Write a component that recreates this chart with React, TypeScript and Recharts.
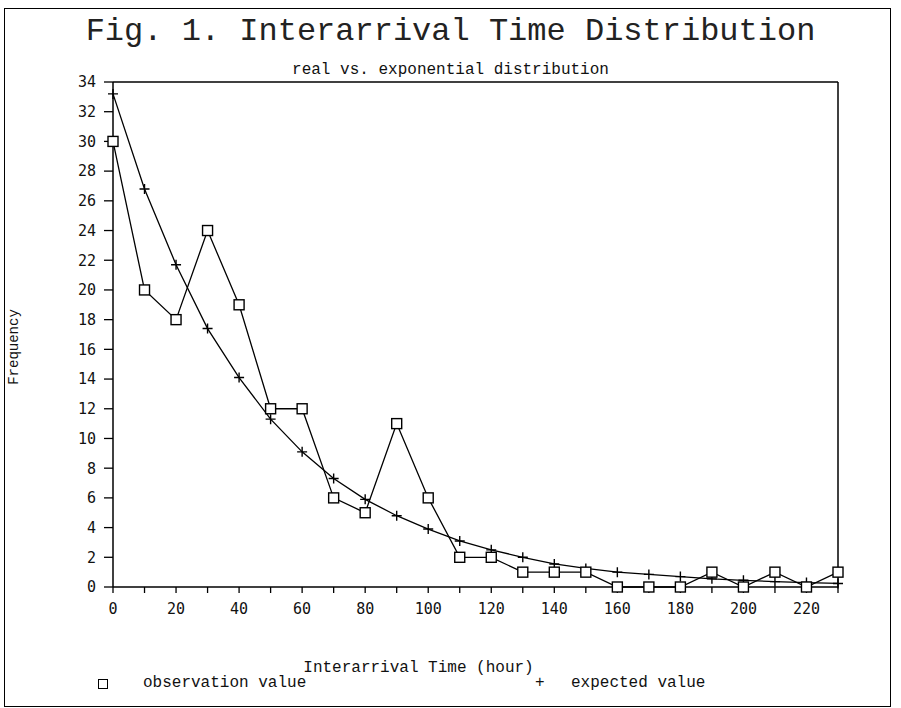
import { LineChart, Line, XAxis, YAxis, ReferenceLine, Legend } from "recharts";

// interarrival time (hour), one point every 10 hours
const hours = [0, 10, 20, 30, 40, 50, 60, 70, 80, 90, 100, 110, 120, 130, 140, 150, 160, 170, 180, 190, 200, 210, 220, 230];
const observationValue = [30, 20, 18, 24, 19, 12, 12, 6, 5, 11, 6, 2, 2, 1, 1, 1, 0, 0, 0, 1, 0, 1, 0, 1];
const expectedValue = [33.2, 26.8, 21.7, 17.4, 14.1, 11.3, 9.1, 7.3, 5.9, 4.8, 3.9, 3.1, 2.5, 2.0, 1.55, 1.25, 1.0, 0.85, 0.7, 0.55, 0.45, 0.36, 0.3, 0.24];

const xTicks = [0, 10, 20, 30, 40, 50, 60, 70, 80, 90, 100, 110, 120, 130, 140, 150, 160, 170, 180, 190, 200, 210, 220, 230];
const xTickLabels = [0, 20, 40, 60, 80, 100, 120, 140, 160, 180, 200, 220];
const yTicks = [0, 2, 4, 6, 8, 10, 12, 14, 16, 18, 20, 22, 24, 26, 28, 30, 32, 34];

const rows = hours.map((h, i) => ({ hour: h, obs: observationValue[i], exp: expectedValue[i] }));

const mono = "'Liberation Mono', 'DejaVu Sans Mono', monospace";
const tickFont = { fontFamily: "'DejaVu Sans Mono', monospace", fontSize: 15, fill: "#111" };

const Square = ({ cx, cy }: any) => {
  if (cx == null || cy == null) return null;
  return <rect x={cx - 5} y={cy - 5} width={10} height={10} fill="#fff" stroke="#000" strokeWidth={1.4} />;
};

const Plus = ({ cx, cy }: any) => {
  if (cx == null || cy == null) return null;
  return <path d={`M${cx - 5},${cy}H${cx + 5}M${cx},${cy - 5}V${cy + 5}`} stroke="#000" strokeWidth={1.4} fill="none" />;
};

const renderLegend = () => (
  <div style={{ position: "relative", height: 20, fontFamily: mono, fontSize: 16, color: "#111" }}>
    <span style={{ position: "absolute", left: 98, top: 5, width: 8, height: 8, border: "1.5px solid #000" }} />
    <span style={{ position: "absolute", left: 143, top: 0 }}>observation value</span>
    <span style={{ position: "absolute", left: 535, top: 0 }}>+</span>
    <span style={{ position: "absolute", left: 571, top: 0 }}>expected value</span>
  </div>
);

export default function App() {
  return (
    <div style={{ position: "absolute", left: 0, top: 0, width: 901, height: 708, background: "#fff", overflow: "hidden" }}>
      <div style={{ position: "absolute", left: 4, top: 8, width: 885, height: 697, border: "1.5px solid #000" }} />
      <div style={{ position: "absolute", left: 0, width: 901, top: 13, textAlign: "center", fontFamily: mono, fontSize: 32, color: "#222" }}>
        Fig. 1. Interarrival Time Distribution
      </div>
      <div style={{ position: "absolute", left: 0, width: 901, top: 61, textAlign: "center", fontFamily: mono, fontSize: 16, color: "#111" }}>
        real vs. exponential distribution
      </div>
      <div style={{ position: "absolute", left: 0, width: 901, top: 659, textAlign: "center", paddingRight: 64, boxSizing: "border-box", fontFamily: mono, fontSize: 16, color: "#111" }}>
        Interarrival Time (hour)
      </div>
      <div style={{ position: "absolute", left: 14, top: 347, transform: "translate(-50%, -50%) rotate(-90deg)", fontFamily: mono, fontSize: 14, color: "#111", whiteSpace: "nowrap" }}>
        Frequency
      </div>
      <LineChart width={901} height={708} data={rows} margin={{ top: 82, right: 63, left: 53, bottom: 71 }}>
        <XAxis
          dataKey="hour"
          type="number"
          domain={[0, 230]}
          ticks={xTicks}
          interval={0}
          tickFormatter={(v: number) => (xTickLabels.includes(v) ? String(v) : "")}
          tick={tickFont}
          tickSize={6}
          tickMargin={10}
          height={30}
          stroke="#000"
          axisLine={{ stroke: "#000", strokeWidth: 1.5 }}
          tickLine={{ stroke: "#000", strokeWidth: 1.3 }}
        />
        <YAxis
          type="number"
          domain={[0, 34]}
          ticks={yTicks}
          interval={0}
          tick={tickFont}
          tickSize={9}
          tickMargin={8}
          width={60}
          axisLine={{ stroke: "#000", strokeWidth: 1.5 }}
          tickLine={{ stroke: "#000", strokeWidth: 1.3 }}
        />
        <ReferenceLine y={34} stroke="#000" strokeWidth={1.5} />
        <ReferenceLine x={230} stroke="#000" strokeWidth={1.5} />
        <Line
          type="linear"
          dataKey="exp"
          name="expected value"
          stroke="#000"
          strokeWidth={1.3}
          dot={(p: any) => <Plus key={`p${p.index}`} {...p} />}
          isAnimationActive={false}
        />
        <Line
          type="linear"
          dataKey="obs"
          name="observation value"
          stroke="#000"
          strokeWidth={1.3}
          dot={(p: any) => <Square key={`s${p.index}`} {...p} />}
          isAnimationActive={false}
        />
        <Legend content={renderLegend} wrapperStyle={{ position: "absolute", left: 0, top: 674, width: 901 }} />
      </LineChart>
    </div>
  );
}
